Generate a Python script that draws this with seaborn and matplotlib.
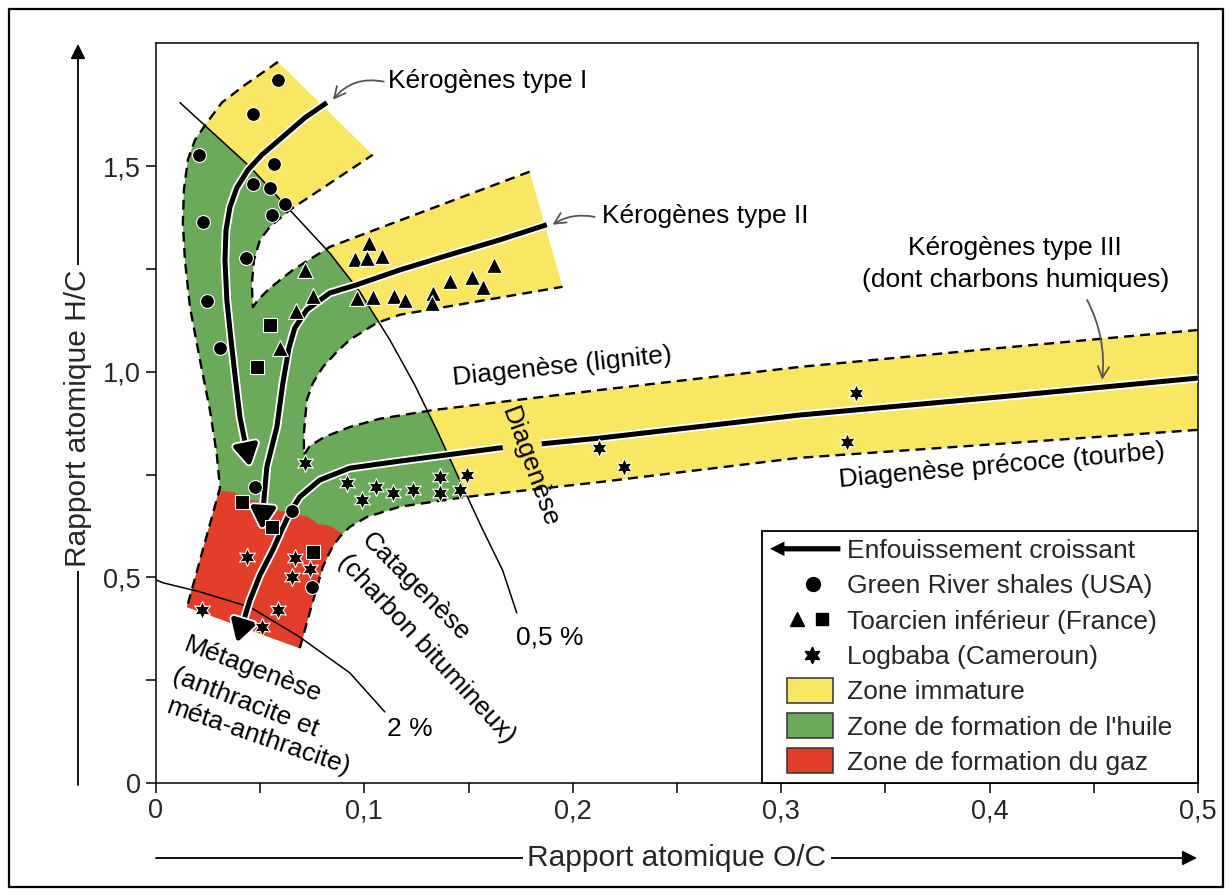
import numpy as np
import matplotlib
matplotlib.use("Agg")
import matplotlib.pyplot as plt
import matplotlib.patheffects as pe
import seaborn as sns
from matplotlib.lines import Line2D
from matplotlib.path import Path
from matplotlib.patches import Polygon, Patch, Rectangle, FancyArrowPatch, FancyArrow, ArrowStyle
from matplotlib.legend_handler import HandlerBase, HandlerPatch

# ------------------------------------------------------------------ samples (O/C, H/C)
GREEN_RIVER_OC = [0.0585, 0.0465, 0.0206, 0.0566, 0.0465, 0.0547, 0.0618, 0.0556,
                  0.0225, 0.0431, 0.0244, 0.0307, 0.0475, 0.0652, 0.0748]
GREEN_RIVER_HC = [1.710, 1.628, 1.528, 1.506, 1.457, 1.448, 1.409, 1.382,
                  1.365, 1.277, 1.173, 1.058, 0.720, 0.662, 0.477]

TOARCIEN_TRI_OC = [0.1021, 0.0954, 0.1012, 0.1083, 0.0714, 0.0753, 0.0671, 0.0594, 0.0964,
                   0.1040, 0.1141, 0.1194, 0.1328, 0.1323, 0.1409, 0.1515, 0.1568, 0.1620]
TOARCIEN_TRI_HC = [1.314, 1.275, 1.277, 1.282, 1.248, 1.185, 1.148, 1.058, 1.180,
                   1.182, 1.185, 1.175, 1.192, 1.168, 1.221, 1.231, 1.207, 1.260]

TOARCIEN_SQ_OC = [0.0547, 0.0484, 0.0412, 0.0556, 0.0753]
TOARCIEN_SQ_HC = [1.114, 1.012, 0.684, 0.623, 0.562]

LOGBABA_OC = [0.0714, 0.0916, 0.0988, 0.1055, 0.1136, 0.1232, 0.1361, 0.1361, 0.1457, 0.1491,
              0.2128, 0.2248, 0.3360, 0.3317, 0.0436, 0.0666, 0.0738, 0.0652, 0.0585, 0.0508, 0.0221]
LOGBABA_HC = [0.779, 0.730, 0.689, 0.720, 0.706, 0.713, 0.745, 0.706, 0.713, 0.749,
              0.815, 0.769, 0.949, 0.830, 0.550, 0.547, 0.521, 0.501, 0.421, 0.380, 0.421]

# ------------------------------------------------------------------ evolution paths (immature -> mature)
TYPE1_OC = [0.0820, 0.0714, 0.0609, 0.0508, 0.0441, 0.0388, 0.0355, 0.0336, 0.0331,
            0.0340, 0.0360, 0.0379, 0.0403, 0.0451]
TYPE1_HC = [1.655, 1.618, 1.572, 1.528, 1.491, 1.448, 1.401, 1.345, 1.272,
            1.175, 1.078, 0.993, 0.890, 0.769]

TYPE2_OC = [0.1875, 0.1649, 0.1409, 0.1170, 0.0964, 0.0834, 0.0724, 0.0666, 0.0638,
            0.0609, 0.0580, 0.0532, 0.0518, 0.0508]
TYPE2_HC = [1.358, 1.321, 1.285, 1.248, 1.212, 1.192, 1.151, 1.107, 1.058,
            0.973, 0.866, 0.769, 0.689, 0.616]

TYPE3_OC = [0.5, 0.4046, 0.3087, 0.2129, 0.1649, 0.1170, 0.0930, 0.0786, 0.0690,
            0.0642, 0.0604, 0.0561, 0.0499, 0.0451, 0.0388]
TYPE3_HC = [0.985, 0.939, 0.895, 0.839, 0.815, 0.783, 0.766, 0.737, 0.696,
            0.657, 0.616, 0.567, 0.506, 0.445, 0.341]

# ------------------------------------------------------------------ kerogen domain outline (four edges)
OUTER_OC = [0.0585, 0.0427, 0.0316, 0.0244, 0.0187, 0.0153, 0.0134, 0.0129, 0.0139,
            0.0163, 0.0211, 0.0259, 0.0292, 0.0307, 0.0149]
OUTER_HC = [1.754, 1.698, 1.655, 1.606, 1.564, 1.516, 1.443, 1.362, 1.272,
            1.158, 1.029, 0.907, 0.798, 0.718, 0.428]
LOWER_OC = [0.0690, 0.0748, 0.0801, 0.0844, 0.0882, 0.0930, 0.1012, 0.1170, 0.1491,
            0.2129, 0.3087, 0.4046, 0.5]
LOWER_HC = [0.328, 0.433, 0.526, 0.572, 0.599, 0.623, 0.647, 0.672, 0.696,
            0.732, 0.791, 0.825, 0.859]
HOLE_OC = [0.5, 0.4046, 0.3087, 0.2129, 0.1328, 0.1074, 0.0930, 0.0810, 0.0738, 0.0710,
           0.0710, 0.0724, 0.0753, 0.0801, 0.0868, 0.0930, 0.1059, 0.1170, 0.1951]
HOLE_HC = [1.102, 1.058, 1.012, 0.956, 0.907, 0.886, 0.866, 0.842, 0.820, 0.798,
           0.852, 0.932, 0.973, 1.012, 1.049, 1.078, 1.119, 1.139, 1.207]
WEDGE_OC = [0.1793, 0.1409, 0.1074, 0.0834, 0.0657, 0.0547, 0.0489, 0.0465, 0.0460,
            0.0470, 0.0499, 0.0547, 0.0642, 0.1040]
WEDGE_HC = [1.487, 1.414, 1.350, 1.304, 1.248, 1.204, 1.175, 1.158, 1.212,
            1.272, 1.321, 1.353, 1.394, 1.528]

# upper limit of the gas window (irregular)
GAS_TOP_OC = [0.0235, 0.0316, 0.0379, 0.0441, 0.0499, 0.0556, 0.0618, 0.0676,
              0.0729, 0.0777, 0.0834, 0.0896, 0.0968]
GAS_TOP_HC = [0.720, 0.711, 0.706, 0.690, 0.684, 0.666, 0.660, 0.652,
              0.648, 0.630, 0.626, 0.606, 0.591]

# iso-reflectance curves (0.5 % and 2 %)
ISO05_OC = [0.0115, 0.0283, 0.0451, 0.0642, 0.0834, 0.0978, 0.1122, 0.1242, 0.1347,
            0.1457, 0.1568, 0.1663, 0.1731]
ISO05_HC = [1.655, 1.577, 1.499, 1.394, 1.289, 1.195, 1.078, 0.968, 0.859,
            0.737, 0.616, 0.518, 0.414]
ISO2_OC = [0.0, 0.0034, 0.0211, 0.0451, 0.0690, 0.0930, 0.1098]
ISO2_HC = [0.494, 0.487, 0.465, 0.428, 0.355, 0.268, 0.173]

X_TICKS = [0.0, 0.1, 0.2, 0.3, 0.4, 0.5]
X_TICK_LABELS = ["0", "0,1", "0,2", "0,3", "0,4", "0,5"]
X_MINOR = [0.05, 0.15, 0.25, 0.35, 0.45]
Y_TICKS = [0.0, 0.5, 1.0, 1.5]
Y_TICK_LABELS = ["0", "0,5", "1,0", "1,5"]
Y_MINOR = [0.25, 0.75, 1.25]

YELLOW = "#f9e662"
GREEN = "#6aaa5a"
RED = "#e23e2a"

sns.set_style("white")
plt.rcParams["font.family"] = ["Liberation Sans", "DejaVu Sans"]
plt.rcParams["font.size"] = 19

fig = plt.figure(figsize=(12.32, 8.96), dpi=100)
ax = fig.add_axes([0.1266, 0.1261, 0.8458, 0.8259])

# ------------------------------------------------------------------ zones
outline = np.column_stack([OUTER_OC + LOWER_OC + HOLE_OC + WEDGE_OC,
                           OUTER_HC + LOWER_HC + HOLE_HC + WEDGE_HC])
domain = Polygon(outline, closed=True, facecolor=YELLOW, edgecolor="none", zorder=1)
ax.add_patch(domain)

oil_side = np.vstack([[[0.0, 1.8]], np.column_stack([ISO05_OC, ISO05_HC]),
                      [[ISO05_OC[-1], 0.0], [0.0, 0.0]]])
oil = Polygon(oil_side, closed=True, facecolor=GREEN, edgecolor="none", zorder=1.2)
ax.add_patch(oil)
oil.set_clip_path(domain)

gas_side = np.vstack([np.column_stack([GAS_TOP_OC, GAS_TOP_HC]),
                      [[GAS_TOP_OC[-1], 0.25], [0.005, 0.25], [0.005, GAS_TOP_HC[0]]]])
gas = Polygon(gas_side, closed=True, facecolor=RED, edgecolor="none", zorder=1.4)
ax.add_patch(gas)
gas.set_clip_path(domain)

# iso-reflectance lines
ax.plot(ISO05_OC, ISO05_HC, color="black", lw=1.1, zorder=2)
ax.plot(ISO2_OC, ISO2_HC, color="black", lw=1.1, zorder=2)

# dashed limits of the domains
for xs, ys in [(OUTER_OC, OUTER_HC), (LOWER_OC, LOWER_HC), (HOLE_OC, HOLE_HC), (WEDGE_OC, WEDGE_HC)]:
    ax.plot(xs, ys, color="black", lw=1.7, linestyle=(0, (4.2, 2.6)), zorder=3,
            solid_capstyle="butt", dash_capstyle="butt")

# ------------------------------------------------------------------ evolution paths
HALO = [pe.Stroke(linewidth=6.2, foreground="white"), pe.Normal()]
head = ArrowStyle("-|>", head_length=0.45, head_width=0.26)


def path_arrow(xs, ys):
    verts = np.column_stack([xs, ys])
    arr = FancyArrowPatch(path=Path(verts), arrowstyle=head, mutation_scale=28,
                          color="black", lw=3.6, zorder=4, joinstyle="round",
                          capstyle="butt")
    arr.set_path_effects(HALO)
    ax.add_patch(arr)


path_arrow(TYPE1_OC, TYPE1_HC)
path_arrow(TYPE2_OC, TYPE2_HC)

# type III path is interrupted where the "Diagenèse" label crosses it
gap_lo, gap_hi = 0.1664, 0.1851
x3 = np.asarray(TYPE3_OC)
y3 = np.asarray(TYPE3_HC)
order = np.argsort(x3)
y_lo = np.interp(gap_lo, x3[order], y3[order])
y_hi = np.interp(gap_hi, x3[order], y3[order])
right = x3 > gap_hi
left = x3 < gap_lo
ax.plot(np.r_[x3[right], gap_hi], np.r_[y3[right], y_hi], color="black", lw=3.6,
        zorder=4, solid_capstyle="butt", path_effects=HALO)
path_arrow(np.r_[gap_lo, x3[left]], np.r_[y_lo, y3[left]])

# ------------------------------------------------------------------ samples
common = dict(color="black", edgecolor="white", linewidth=0.8, zorder=6, ax=ax, legend=False)
sns.scatterplot(x=GREEN_RIVER_OC, y=GREEN_RIVER_HC, marker="o", s=100, **common)
sns.scatterplot(x=TOARCIEN_TRI_OC, y=TOARCIEN_TRI_HC, marker="^", s=130, **common)
sns.scatterplot(x=TOARCIEN_SQ_OC, y=TOARCIEN_SQ_HC, marker="s", s=88, **common)
sns.scatterplot(x=LOGBABA_OC, y=LOGBABA_HC, marker=(6, 1, 0), s=170, **common)

# ------------------------------------------------------------------ labels in the plot
txt = dict(color="black", fontsize=19, zorder=7)
ax.text(0.1112, 1.708, "Kérogènes type I", ha="left", va="center", **txt)
ax.text(0.2140, 1.380, "Kérogènes type II", ha="left", va="center", **txt)
ax.text(0.4123, 1.262, "Kérogènes type III\n(dont charbons humiques)", ha="center",
        va="center", multialignment="center", linespacing=1.4, **txt)
ax.text(0.1951, 1.012, "Diagenèse (lignite)", ha="center", va="center", rotation=6,
        rotation_mode="anchor", **txt)
ax.text(0.1793, 0.769, "Diagenèse", ha="center", va="center", rotation=-70,
        rotation_mode="anchor", **txt)
ax.text(0.4061, 0.771, "Diagenèse précoce (tourbe)", ha="center", va="center", rotation=5,
        rotation_mode="anchor", **txt)
ax.text(0.1246, 0.477, "Catagenèse", ha="center", va="center", rotation=-45,
        rotation_mode="anchor", **txt)
ax.text(0.1299, 0.326, "(charbon bitumineux)", ha="center", va="center", rotation=-47,
        rotation_mode="anchor", **txt)
ax.text(0.0465, 0.275, "Métagenèse", ha="center", va="center", rotation=-21,
        rotation_mode="anchor", **txt)
ax.text(0.0427, 0.195, "(anthracite et", ha="center", va="center", rotation=-21,
        rotation_mode="anchor", **txt)
ax.text(0.0489, 0.112, "méta-anthracite)", ha="center", va="center", rotation=-19,
        rotation_mode="anchor", **txt)
ax.text(0.1889, 0.355, "0,5 %", ha="center", va="center", **txt)
ax.text(0.1218, 0.131, "2 %", ha="center", va="center", **txt)

pointer = dict(arrowstyle="->", color="#555555", lw=1.3, shrinkA=0, shrinkB=0,
               mutation_scale=20)
ax.annotate("", xy=(0.0849, 1.662), xytext=(0.1093, 1.706),
            arrowprops=dict(pointer, connectionstyle="arc3,rad=0.3"), zorder=7)
ax.annotate("", xy=(0.1903, 1.358), xytext=(0.2105, 1.377),
            arrowprops=dict(pointer, connectionstyle="arc3,rad=0.2"), zorder=7)
ax.annotate("", xy=(0.4540, 0.981), xytext=(0.4468, 1.175),
            arrowprops=dict(pointer, connectionstyle="arc3,rad=-0.15"), zorder=7)

# ------------------------------------------------------------------ axes
ax.set_xlim(0, 0.5)
ax.set_ylim(0, 1.8)
ax.set_xticks(X_TICKS)
ax.set_xticklabels(X_TICK_LABELS)
ax.set_xticks(X_MINOR, minor=True)
ax.set_yticks(Y_TICKS)
ax.set_yticklabels(Y_TICK_LABELS)
ax.set_yticks(Y_MINOR, minor=True)
ax.tick_params(which="both", direction="out", length=7, width=1.1, color="black",
               bottom=True, left=True, top=False, right=False)
ax.tick_params(axis="both", which="major", labelsize=19.5, pad=4)
for sp in ax.spines.values():
    sp.set_visible(True)
    sp.set_color("black")
    sp.set_linewidth(1.1)
ax.set_xlabel("")
ax.set_ylabel("")


# ------------------------------------------------------------------ legend
class ArrowKey:
    pass


class HandlerArrowKey(HandlerBase):
    def create_artists(self, legend, orig_handle, xdescent, ydescent, width, height,
                       fontsize, trans):
        y = height / 2 - ydescent
        arr = FancyArrow(width - xdescent, y, -width, 0, width=0.2 * fontsize,
                         head_width=0.55 * fontsize, head_length=0.55 * fontsize,
                         length_includes_head=True, color="black", lw=0, transform=trans)
        return [arr]


class MarkerKey:
    def __init__(self, *items):
        self.items = items


class HandlerMarkerKey(HandlerBase):
    def create_artists(self, legend, orig_handle, xdescent, ydescent, width, height,
                       fontsize, trans):
        y = height / 2 - ydescent
        out = []
        for frac, marker, ms in orig_handle.items:
            out.append(Line2D([frac * width - xdescent], [y], marker=marker, markersize=ms,
                              color="black", linestyle="none", transform=trans))
        return out


def key_box(legend, orig_handle, xdescent, ydescent, width, height, fontsize):
    w = 0.66 * width
    h = 0.95 * fontsize
    return Rectangle((-xdescent + 0.24 * width, -ydescent + height / 2 - h / 2), w, h)


handles = [ArrowKey(),
           MarkerKey((0.61, "o", 10)),
           MarkerKey((0.39, "^", 10), (0.74, "s", 8.5)),
           MarkerKey((0.6, (6, 1, 0), 12)),
           Patch(facecolor=YELLOW, edgecolor="#333333", linewidth=1.1),
           Patch(facecolor=GREEN, edgecolor="#333333", linewidth=1.1),
           Patch(facecolor=RED, edgecolor="#333333", linewidth=1.1)]
labels = ["Enfouissement croissant", "Green River shales (USA)", "Toarcien inférieur (France)",
          "Logbaba (Cameroun)", "Zone immature", "Zone de formation de l'huile",
          "Zone de formation du gaz"]
leg = ax.legend(handles, labels, loc="lower left", bbox_to_anchor=(0.5816, 0.0, 0.4184, 0.35),
                bbox_transform=ax.transAxes, mode="expand", borderaxespad=0, fontsize=19,
                frameon=True, fancybox=False, framealpha=1, edgecolor="black",
                handlelength=2.67, handleheight=0.7, handletextpad=0.25,
                borderpad=0.3, labelspacing=0.43,
                handler_map={ArrowKey: HandlerArrowKey(), MarkerKey: HandlerMarkerKey(),
                             Patch: HandlerPatch(patch_func=key_box)})
leg.get_frame().set_linewidth(1.3)
leg.set_zorder(10)

# ------------------------------------------------------------------ axis titles with arrows
fig.text(0.0633, 0.5335, "Rapport atomique H/C", rotation=90, ha="center", va="center",
         fontsize=21.5, bbox=dict(facecolor="white", edgecolor="none", pad=3), zorder=5)
fig.text(0.5495, 0.0424, "Rapport atomique O/C", ha="center", va="center",
         fontsize=21.5, bbox=dict(facecolor="white", edgecolor="none", pad=3), zorder=5)
axis_arrow = dict(arrowstyle="-|>", color="black", lw=1.3, shrinkA=0, shrinkB=0,
                  mutation_scale=22)
ax.annotate("", xy=(0.0633, 0.9509), xytext=(0.0633, 0.1239), xycoords="figure fraction",
            textcoords="figure fraction", arrowprops=axis_arrow, annotation_clip=False,
            zorder=1)
ax.annotate("", xy=(0.9716, 0.0424), xytext=(0.1266, 0.0424), xycoords="figure fraction",
            textcoords="figure fraction", arrowprops=axis_arrow, annotation_clip=False,
            zorder=1)

# outer frame of the figure
fig.add_artist(Rectangle((9 / 1232, 9 / 896), 1214 / 1232, 878 / 896,
                         transform=fig.transFigure, fill=False, edgecolor="black",
                         linewidth=1.6))

fig.savefig("out.png", dpi=100)
